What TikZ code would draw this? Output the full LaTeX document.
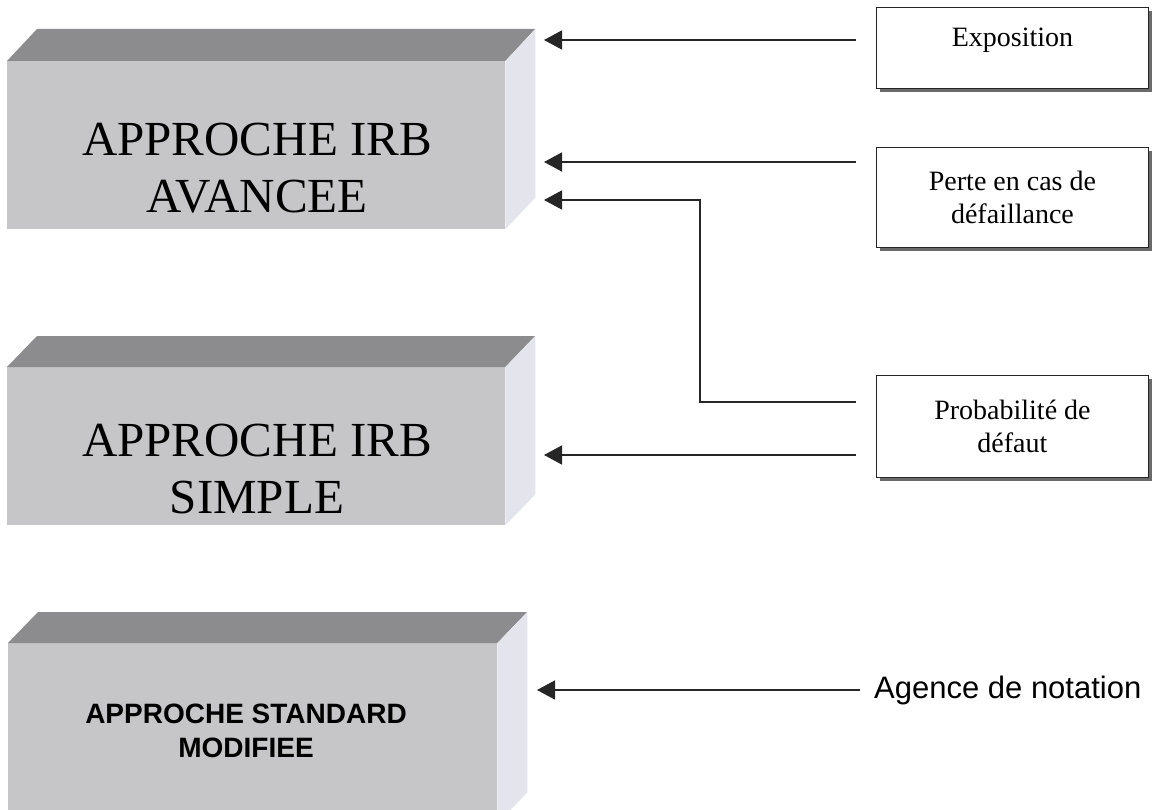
\documentclass[tikz,border=0pt]{standalone}
\usepackage{fontspec}
\setmainfont{Liberation Serif}
\newfontfamily\arialfont{Liberation Sans}
\usetikzlibrary{arrows.meta,calc}

\definecolor{topface}{HTML}{8C8C8E}
\definecolor{frontface}{HTML}{C6C6C8}
\definecolor{sideface}{HTML}{E4E4EC}
\definecolor{linecol}{HTML}{262626}
\definecolor{shadowcol}{HTML}{6A6A6A}

\begin{document}
\begin{tikzpicture}[x=1pt,y=-1pt,
  front/.style={fill=frontface, draw=none, inner sep=0pt, anchor=north west},
  bigtxt/.style={align=center, inner sep=0pt, font=\fontsize{49}{57}\selectfont},
  stdtxt/.style={align=center, inner sep=0pt, font=\arialfont\bfseries\fontsize{28}{34}\selectfont},
  infobox/.style={draw=linecol, line width=0.9pt, fill=white, anchor=north west, inner sep=0pt},
  infotxt/.style={align=center, inner sep=0pt, font=\fontsize{28}{33}\selectfont},
  arr/.style={draw=linecol, line width=1.7pt, -{Triangle[length=18pt,width=19pt]}}]

\useasboundingbox (0,0) rectangle (1161,810);
\clip (0,0) rectangle (1161,810);

% ---- three 3D blocks: front face, top face, side face ----
\node[front, minimum width=498pt, minimum height=168pt] (avancee) at (7,61) {};
\fill[topface] (avancee.north west) -- ++(30,-32) -- ++(498,0) -- (avancee.north east) -- cycle;
\fill[sideface] (avancee.north east) -- ++(30,-32) -- ($(avancee.south east)+(30,-32)$) -- (avancee.south east) -- cycle;
\node[bigtxt] (avanceeT) at (257,168) {APPROCHE IRB\\AVANCEE};

\node[front, minimum width=498pt, minimum height=158pt] (simple) at (7,367) {};
\fill[topface] (simple.north west) -- ++(30,-31) -- ++(498,0) -- (simple.north east) -- cycle;
\fill[sideface] (simple.north east) -- ++(30,-31) -- ($(simple.south east)+(30,-31)$) -- (simple.south east) -- cycle;
\node[bigtxt] (simpleT) at (257,469) {APPROCHE IRB\\SIMPLE};

\node[front, minimum width=489pt, minimum height=180pt] (standard) at (8,643) {};
\fill[topface] (standard.north west) -- ++(30,-31) -- ++(489,0) -- (standard.north east) -- cycle;
\fill[sideface] (standard.north east) -- ++(30,-31) -- ($(standard.south east)+(30,-31)$) -- (standard.south east) -- cycle;
\node[stdtxt] (standardT) at (246,731) {APPROCHE STANDARD\\MODIFIEE};

% ---- input boxes on the right, with drop shadows ----
\fill[shadowcol] (880,11) rectangle (1152,92);
\node[infobox, minimum width=272pt, minimum height=81pt] (expo) at (876,7) {};
\node[infotxt] at (expo.center) [yshift=8pt] {Exposition};

\fill[shadowcol] (880,151) rectangle (1152,251);
\node[infobox, minimum width=272pt, minimum height=100pt] (perte) at (876,147) {};
\node[infotxt] at (perte.center) {Perte en cas de\\défaillance};

\fill[shadowcol] (880,379) rectangle (1152,481);
\node[infobox, minimum width=272pt, minimum height=102pt] (proba) at (876,375) {};
\node[infotxt] at (proba.center) {Probabilité de\\défaut};

\node[anchor=west, inner sep=0pt, font=\arialfont\fontsize{31}{36}\selectfont] (agence) at (874,690) {Agence de notation};

% ---- arrow end points at the blocks ----
\coordinate (t1) at (544,40);
\coordinate (t2) at (544,162);
\coordinate (t3) at (544,200);
\coordinate (bend) at (700,402);
\coordinate (t4) at (544,455);
\coordinate (t5) at (537,690);

% ---- connectors ----
\draw[arr] ($(expo.west |- t1)+(-20,0)$) -- (t1);
\draw[arr] ($(perte.west |- t2)+(-20,0)$) -- (t2);
\draw[arr] ($(proba.west |- bend)+(-20,0)$) -- (bend) -- (bend |- t3) -- (t3);
\draw[arr] ($(proba.west |- t4)+(-20,0)$) -- (t4);
\draw[arr] ($(agence.west |- t5)+(-14,0)$) -- (t5);
\end{tikzpicture}
\end{document}
